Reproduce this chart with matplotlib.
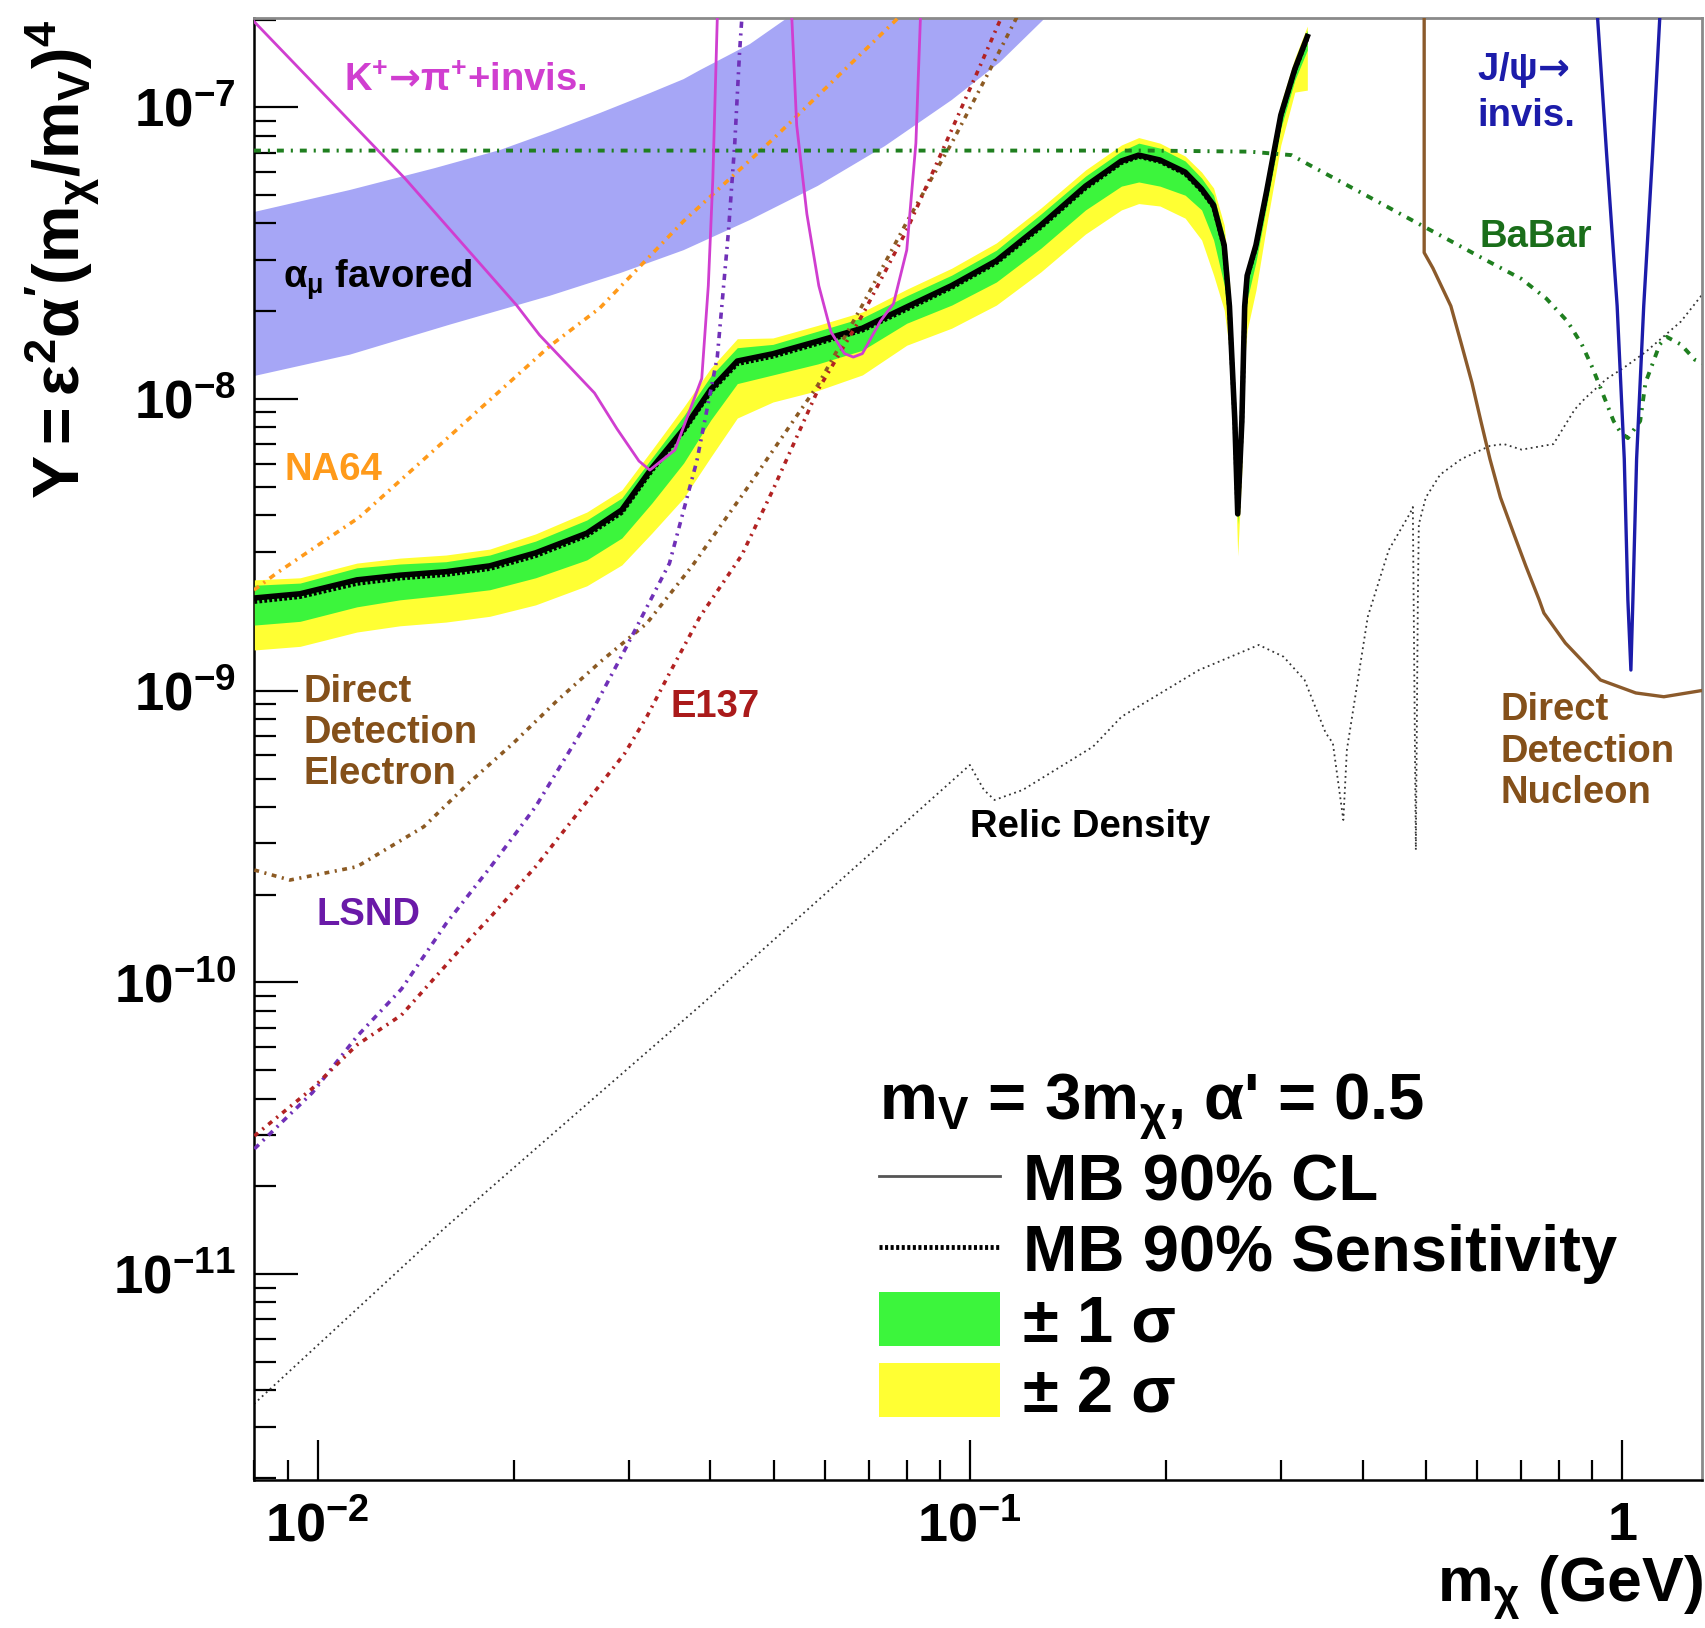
import numpy as np
import matplotlib
matplotlib.use("Agg")
import matplotlib.pyplot as plt
from matplotlib.lines import Line2D
from matplotlib.patches import Patch
from matplotlib.ticker import NullFormatter, LogLocator

plt.rcParams['font.family'] = ['Liberation Sans', 'DejaVu Sans']
plt.rcParams['font.weight'] = 'bold'
plt.rcParams['mathtext.fontset'] = 'custom'
plt.rcParams['mathtext.rm'] = 'Liberation Sans:bold'
plt.rcParams['mathtext.it'] = 'Liberation Sans:bold'
plt.rcParams['mathtext.bf'] = 'Liberation Sans:bold'
plt.rcParams['mathtext.sf'] = 'DejaVu Sans:bold'
plt.rcParams['mathtext.default'] = 'rm'
plt.rcParams['lines.scale_dashes'] = False

# ---------------- data (m_chi in GeV, Y) ----------------
amu_upper_m = [0.0080, 0.01121, 0.01512, 0.01903, 0.0227, 0.02708, 0.03231, 0.03641, 0.03857, 0.0460, 0.0524, 0.0548]
amu_upper_Y = [4.38e-8, 5.21e-8, 6.19e-8, 7.14e-8, 8.23e-8, 9.56e-8, 1.119e-7, 1.25e-7, 1.342e-7, 1.648e-7, 2.02e-7, 2.16e-7]
amu_lower_m = [0.0080, 0.01121, 0.01595, 0.0227, 0.02906, 0.03641, 0.0460, 0.05845, 0.07409, 0.0938, 0.1112, 0.1303, 0.1398]
amu_lower_Y = [1.20e-8, 1.42e-8, 1.80e-8, 2.26e-8, 2.70e-8, 3.24e-8, 4.11e-8, 5.38e-8, 7.37e-8, 1.06e-7, 1.429e-7, 2.02e-7, 2.37e-7]

mb_m = [0.00800, 0.00940, 0.01149, 0.01337, 0.01573, 0.01836, 0.02159, 0.02587, 0.02927,
        0.03254, 0.03641, 0.04007, 0.04400, 0.04989, 0.05848, 0.06843, 0.08003, 0.09378,
        0.1098, 0.1285, 0.1504, 0.1707, 0.1815, 0.1956, 0.2138, 0.2266, 0.2364, 0.2454,
        0.2500, 0.2548, 0.2574, 0.2612, 0.2638, 0.2661, 0.2745, 0.2851, 0.2997, 0.3149, 0.3291]
mb_obs = [2.08e-9, 2.15e-9, 2.40e-9, 2.49e-9, 2.56e-9, 2.68e-9, 2.97e-9, 3.47e-9, 4.17e-9,
          5.80e-9, 7.89e-9, 1.08e-8, 1.35e-8, 1.43e-8, 1.58e-8, 1.75e-8, 2.07e-8, 2.45e-8,
          2.98e-8, 3.95e-8, 5.37e-8, 6.55e-8, 6.86e-8, 6.60e-8, 6.00e-8, 5.25e-8, 4.62e-8, 3.37e-8,
          2.08e-8, 8.41e-9, 4.04e-9, 8.41e-9, 2.08e-8, 2.65e-8, 3.37e-8, 5.17e-8, 9.41e-8, 1.353e-7, 1.750e-7]
mb_exp = [2.02e-9, 2.10e-9, 2.33e-9, 2.43e-9, 2.50e-9, 2.62e-9, 2.90e-9, 3.40e-9, 4.08e-9,
          5.68e-9, 7.75e-9, 1.06e-8, 1.32e-8, 1.40e-8, 1.55e-8, 1.72e-8, 2.03e-8, 2.41e-8,
          2.93e-8, 3.88e-8, 5.28e-8, 6.45e-8, 6.78e-8, 6.52e-8, 5.92e-8, 5.18e-8, 4.55e-8, 3.31e-8,
          2.04e-8, 8.30e-9, 4.00e-9, 8.30e-9, 2.04e-8, 2.61e-8, 3.32e-8, 5.10e-8, 9.30e-8, 1.34e-7, 1.73e-7]
mb_plus2 = [2.40e-9, 2.44e-9, 2.74e-9, 2.85e-9, 2.92e-9, 3.06e-9, 3.45e-9, 4.10e-9, 4.88e-9,
            6.69e-9, 9.39e-9, 1.277e-8, 1.61e-8, 1.62e-8, 1.79e-8, 1.99e-8, 2.38e-8, 2.81e-8,
            3.43e-8, 4.52e-8, 6.10e-8, 7.43e-8, 7.88e-8, 7.54e-8, 6.81e-8, 6.00e-8, 5.29e-8, 3.95e-8,
            2.56e-8, 1.03e-8, 4.51e-9, 9.17e-9, 2.27e-8, 2.88e-8, 3.65e-8, 5.63e-8, 1.034e-7, 1.476e-7, 1.899e-7]
mb_plus1 = [2.30e-9, 2.34e-9, 2.64e-9, 2.72e-9, 2.77e-9, 2.92e-9, 3.26e-9, 3.85e-9, 4.58e-9,
            6.28e-9, 8.75e-9, 1.20e-8, 1.50e-8, 1.54e-8, 1.71e-8, 1.90e-8, 2.26e-8, 2.66e-8,
            3.24e-8, 4.31e-8, 5.81e-8, 7.08e-8, 7.54e-8, 7.25e-8, 6.55e-8, 5.72e-8, 5.00e-8, 3.65e-8,
            2.27e-8, 9.17e-9, 4.23e-9, 8.82e-9, 2.19e-8, 2.77e-8, 3.51e-8, 5.42e-8, 9.87e-8, 1.419e-7, 1.841e-7]
mb_minus1 = [1.68e-9, 1.73e-9, 1.94e-9, 2.05e-9, 2.13e-9, 2.22e-9, 2.44e-9, 2.81e-9, 3.34e-9,
             4.40e-9, 6.04e-9, 8.48e-9, 1.13e-8, 1.21e-8, 1.32e-8, 1.47e-8, 1.82e-8, 2.10e-8,
             2.52e-8, 3.29e-8, 4.45e-8, 5.37e-8, 5.55e-8, 5.37e-8, 5.00e-8, 4.45e-8, 3.51e-8, 2.46e-8,
             1.72e-8, 7.24e-9, 3.73e-9, 7.24e-9, 1.72e-8, 2.19e-8, 2.95e-8, 4.62e-8, 8.49e-8, 1.240e-7, 1.572e-7]
mb_minus2 = [1.38e-9, 1.42e-9, 1.59e-9, 1.67e-9, 1.72e-9, 1.80e-9, 1.97e-9, 2.29e-9, 2.70e-9,
             3.47e-9, 4.58e-9, 6.33e-9, 8.61e-9, 9.77e-9, 1.07e-8, 1.21e-8, 1.53e-8, 1.75e-8,
             2.10e-8, 2.73e-8, 3.68e-8, 4.45e-8, 4.68e-8, 4.59e-8, 4.17e-8, 3.51e-8, 2.66e-8, 2.02e-8,
             1.47e-8, 6.18e-9, 2.90e-9, 5.71e-9, 1.36e-8, 1.72e-8, 2.36e-8, 3.95e-8, 7.43e-8, 1.128e-7, 1.146e-7]

babar_m = [0.00799, 0.1888, 0.2687, 0.3111, 0.3309, 0.3753, 0.4251, 0.4819, 0.5462, 0.6180,
           0.7012, 0.7651, 0.8247, 0.8672, 0.9000, 0.9342, 0.9701, 0.9947, 1.0202, 1.0656,
           1.0857, 1.1133, 1.1416, 1.1701, 1.2303, 1.2925, 1.3393]
babar_Y = [7.11e-8, 7.11e-8, 7.05e-8, 6.86e-8, 6.36e-8, 5.47e-8, 4.71e-8, 4.045e-8, 3.48e-8, 2.996e-8,
           2.58e-8, 2.211e-8, 1.844e-8, 1.539e-8, 1.284e-8, 1.041e-8, 8.41e-9, 7.68e-9, 7.35e-9, 8.41e-9,
           1.138e-8, 1.322e-8, 1.539e-8, 1.634e-8, 1.539e-8, 1.364e-8, 1.322e-8]

relic_m = [0.00799, 0.01575, 0.02528, 0.03857, 0.05857, 0.1000, 0.1051, 0.1091, 0.1205, 0.1544,
           0.1708, 0.2245, 0.2773, 0.3025, 0.3259, 0.3511, 0.3601, 0.3737, 0.3784, 0.4074,
           0.4387, 0.4732, 0.4776, 0.4827, 0.4861, 0.4878, 0.5000, 0.5260, 0.5669, 0.6270,
           0.6587, 0.7012, 0.7845, 0.8457, 0.8779, 0.9463, 1.0074, 1.0857, 1.2303, 1.3393]
relic_Y = [3.59e-12, 1.456e-11, 3.658e-11, 8.31e-11, 1.918e-10, 5.567e-10, 4.571e-10, 4.223e-10, 4.571e-10, 6.43e-10,
           8.15e-10, 1.178e-9, 1.436e-9, 1.309e-9, 1.089e-9, 7.17e-10, 6.62e-10, 3.607e-10, 6.27e-10, 1.795e-9,
           3.039e-9, 4.068e-9, 4.266e-9, 2.847e-10, 2.047e-9, 3.721e-9, 4.60e-9, 5.51e-9, 6.23e-9, 6.91e-9,
           7.01e-9, 6.71e-9, 7.01e-9, 9.21e-9, 1.008e-8, 1.172e-8, 1.284e-8, 1.449e-8, 1.844e-8, 2.346e-8]

kpi1_m = [0.00799, 0.01364, 0.02018, 0.02189, 0.02658, 0.02876, 0.03110, 0.03231, 0.03530,
          0.03881, 0.03972, 0.04036, 0.04100, 0.04116]
kpi1_Y = [1.97e-7, 5.68e-8, 2.10e-8, 1.658e-8, 1.049e-8, 7.92e-9, 6.13e-9, 5.71e-9, 6.69e-9,
          1.176e-8, 2.446e-8, 5.69e-8, 2.02e-7, 2.33e-7]
kpi2_m = [0.0531, 0.05334, 0.05426, 0.05625, 0.05867, 0.06126, 0.06423, 0.06627, 0.06843,
          0.07287, 0.07638, 0.08003, 0.08265, 0.08398, 0.0843]
kpi2_Y = [2.33e-7, 2.02e-7, 8.70e-8, 4.31e-8, 2.446e-8, 1.697e-8, 1.432e-8, 1.393e-8, 1.432e-8,
          1.845e-8, 2.126e-8, 3.243e-8, 7.54e-8, 2.02e-7, 2.33e-7]

na64_m = [0.00799, 0.00866, 0.01160, 0.0227, 0.02708, 0.03641, 0.04989, 0.07753, 0.08323]
na64_Y = [2.216e-9, 2.533e-9, 3.94e-9, 1.52e-8, 2.051e-8, 4.076e-8, 7.78e-8, 2.02e-7, 2.33e-7]

dde_m = [0.0080, 0.00907, 0.01149, 0.01455, 0.01704, 0.01995, 0.02335, 0.02734, 0.03197,
         0.03761, 0.04535, 0.05848, 0.06843, 0.08003, 0.09378, 0.1063, 0.1178, 0.1214]
dde_Y = [2.43e-10, 2.245e-10, 2.494e-10, 3.42e-10, 4.82e-10, 6.61e-10, 9.30e-10, 1.275e-9, 1.703e-9,
         2.698e-9, 4.88e-9, 1.117e-8, 2.10e-8, 4.045e-8, 7.54e-8, 1.29e-7, 2.02e-7, 2.33e-7]

lsnd_m = [0.0080, 0.00982, 0.01149, 0.01345, 0.01575, 0.01843, 0.02159, 0.02528, 0.02958,
          0.03463, 0.03815, 0.0410, 0.04264, 0.04361, 0.04434, 0.04471, 0.04486]
lsnd_Y = [2.688e-11, 4.193e-11, 6.53e-11, 9.50e-11, 1.595e-10, 2.494e-10, 4.006e-10, 7.15e-10, 1.38e-9,
          2.735e-9, 6.145e-9, 1.393e-8, 3.736e-8, 7.54e-8, 1.528e-7, 2.02e-7, 2.33e-7]

e137_m = [0.0080, 0.00982, 0.01149, 0.01345, 0.01651, 0.01843, 0.02159, 0.02528, 0.02958, 0.03197,
          0.03463, 0.03857, 0.04471, 0.04989, 0.05848, 0.06843, 0.08003, 0.09085, 0.1030, 0.1116, 0.1139]
e137_Y = [2.978e-11, 4.336e-11, 6.107e-11, 7.736e-11, 1.293e-10, 1.681e-10, 2.494e-10, 3.904e-10, 6.107e-10, 8.15e-10,
          1.148e-9, 1.795e-9, 2.92e-9, 4.88e-9, 1.074e-8, 1.941e-8, 3.796e-8, 7.14e-8, 1.342e-7, 2.02e-7, 2.33e-7]

ddn_m = [0.4971, 0.4971, 0.5126, 0.5462, 0.5669, 0.5884, 0.6072, 0.6270, 0.6507, 0.6838,
         0.7117, 0.7462, 0.7586, 0.8182, 0.9262, 1.0491, 1.1584, 1.3393]
ddn_Y = [2.33e-7, 3.177e-8, 2.812e-8, 2.084e-8, 1.544e-8, 1.138e-8, 8.41e-9, 6.23e-9, 4.60e-9, 3.40e-9,
         2.677e-9, 2.047e-9, 1.847e-9, 1.458e-9, 1.089e-9, 9.83e-10, 9.54e-10, 1.006e-9]

jpsi_m = [0.9129, 0.9171, 0.9463, 0.9824, 1.0074, 1.0203, 1.0312, 1.0385, 1.0522, 1.0790, 1.1133, 1.1416, 1.1465]
jpsi_Y = [2.33e-7, 2.007e-7, 6.97e-8, 2.084e-8, 6.23e-9, 2.047e-9, 1.178e-9, 2.047e-9, 6.23e-9, 2.084e-8, 6.97e-8, 2.007e-7, 2.33e-7]

ytick_vals = [1e-11, 1e-10, 1e-9, 1e-8, 1e-7]
ytick_labels = [r'$10^{-11}$', r'$10^{-10}$', r'$10^{-9}$', r'$10^{-8}$', r'$10^{-7}$']
xtick_vals = [0.01, 0.1, 1.0]
xtick_labels = [r'$10^{-2}$', r'$10^{-1}$', '1']

legend_labels = ['MB 90% CL', 'MB 90% Sensitivity', '± 1 σ', '± 2 σ']
legend_title = "$m_{V}$ = 3$m_{χ}$, α' = 0.5"

# ---------------- colours ----------------
c_band = '#a6a6f6'
c_kpi = '#d03ed0'
c_babar = '#1f7f1f'
c_na64 = '#ff9a1a'
c_dde = '#8c5a23'
c_lsnd = '#7030b8'
c_e137 = '#b22222'
c_relic = '#333333'
c_jpsi = '#1c1caa'
c_ddn = '#8b5a2b'
c_green = '#3cf53c'
c_yellow = '#ffff33'

fig = plt.figure(figsize=(17.05, 16.28), dpi=100)
ax = fig.add_axes([0.14897, 0.09091, 0.84909, 0.89785])
ax.set_xscale('log')
ax.set_yscale('log')

# alpha_mu favoured band
ax.fill(amu_upper_m + amu_lower_m[::-1], amu_upper_Y + amu_lower_Y[::-1],
        color=c_band, lw=0, zorder=1)

# relic density
ax.plot(relic_m, relic_Y, color=c_relic, lw=1.3, ls=(0, (1.3, 2.6)), zorder=2)

# MiniBooNE bands
ax.fill_between(mb_m, mb_minus2, mb_plus2, color=c_yellow, lw=0, zorder=3)
ax.fill_between(mb_m, mb_minus1, mb_plus1, color=c_green, lw=0, zorder=3.1)
ax.plot(mb_m, mb_exp, color='black', lw=3.2, ls=(0, (2, 1.6)), zorder=3.2)
ax.plot(mb_m, mb_obs, color='black', lw=4.0, zorder=3.3)

# other limits
ax.plot(na64_m, na64_Y, color=c_na64, lw=2.6, ls=(0, (4.5, 4, 1.5, 4)), zorder=4)
ax.plot(dde_m, dde_Y, color=c_dde, lw=2.6, ls=(0, (3.5, 4, 1.5, 4)), zorder=4)
ax.plot(lsnd_m, lsnd_Y, color=c_lsnd, lw=2.6, ls=(0, (4.5, 4, 1.5, 4)), zorder=4)
ax.plot(e137_m, e137_Y, color=c_e137, lw=2.6, ls=(0, (3.5, 4, 1.5, 4)), zorder=4)
ax.plot(babar_m, babar_Y, color=c_babar, lw=2.8, ls=(0, (5, 5, 1.5, 5)), zorder=4)
ax.plot(kpi1_m, kpi1_Y, color=c_kpi, lw=2.0, zorder=4.5)
ax.plot(kpi2_m, kpi2_Y, color=c_kpi, lw=2.0, zorder=4.5)
ax.plot(ddn_m, ddn_Y, color=c_ddn, lw=2.4, zorder=4.5)
ax.plot(jpsi_m, jpsi_Y, color=c_jpsi, lw=2.4, zorder=4.5)

ax.set_xlim(0.00799, 1.324)
ax.set_ylim(1.97e-12, 2.02e-7)

# ticks
ax.set_yticks(ytick_vals, ytick_labels)
ax.set_xticks(xtick_vals, xtick_labels)
ax.yaxis.set_minor_locator(LogLocator(base=10, subs=np.arange(2, 10), numticks=50))
ax.xaxis.set_minor_locator(LogLocator(base=10, subs=np.arange(2, 10), numticks=50))
ax.xaxis.set_minor_formatter(NullFormatter())
ax.yaxis.set_minor_formatter(NullFormatter())
ax.tick_params(which='both', direction='in', top=False, right=False, width=1.6, color='black')
ax.tick_params(axis='y', which='major', length=32, pad=13, labelsize=38)
ax.tick_params(axis='y', which='minor', length=16)
ax.tick_params(axis='x', which='major', length=29, pad=15, labelsize=39)
ax.tick_params(axis='x', which='minor', length=14.5)

for s in ['left', 'bottom']:
    ax.spines[s].set_linewidth(1.8)
    ax.spines[s].set_color('black')
for s in ['top', 'right']:
    ax.spines[s].set_linewidth(2.0)
    ax.spines[s].set_color('#8a8a8a')

# axis titles
fig.text(62 / 1705, 1 - 20 / 1628, r"$Y = ε^{2}α'(m_{χ}/m_{V})^{4}$", rotation=90,
         ha='center', va='top', fontsize=46.5)
fig.text(0.999, 1 - 1588 / 1628, r"$m_{χ}$ (GeV)", ha='right', va='center', fontsize=45)

# annotations
fs = 27.5
def lab(fx, fy, s, c, ls=1.2):
    ax.text(fx, fy, s, color=c, fontsize=fs, ha='left', va='center',
            transform=ax.transAxes, linespacing=ls, zorder=6)

lab(0.0622, 0.957, r"$K^{+}\mathsf{→}π^{+}$+invis.", c_kpi)
lab(0.020, 0.821, "$α_{μ}$ favored", 'black')
lab(0.0214, 0.691, "NA64", c_na64)
lab(0.0343, 0.5109, "Direct\nDetection\nElectron", '#84501a', 1.18)
lab(0.0435, 0.3866, "LSND", '#6a1aa8')
lab(0.2877, 0.5288, "E137", '#aa1a1a')
lab(0.4946, 0.4469, "Relic Density", 'black')
lab(0.8448, 0.9497, "J/ψ$\\mathsf{→}$\ninvis.", c_jpsi, 1.3)
lab(0.8462, 0.8501, "BaBar", '#1a6e1a')
lab(0.8611, 0.4982, "Direct\nDetection\nNucleon", '#84501a', 1.2)

# legend
handles = [Line2D([], [], color='#555555', lw=2.0),
           Line2D([], [], color='black', lw=3.5, ls=(0, (2.2, 1.8))),
           Patch(facecolor=c_green, edgecolor='none'),
           Patch(facecolor=c_yellow, edgecolor='none')]
leg = ax.legend(handles, legend_labels, title=legend_title, loc='upper left',
                bbox_to_anchor=(0.432, 0.2789), frameon=False, fontsize=47,
                title_fontsize=47, handlelength=1.84, handleheight=0.9,
                handletextpad=0.36, labelspacing=0.12, borderpad=0, borderaxespad=0,
                alignment='left')
leg.set_zorder(7)

fig.savefig('out.png', dpi=100)
